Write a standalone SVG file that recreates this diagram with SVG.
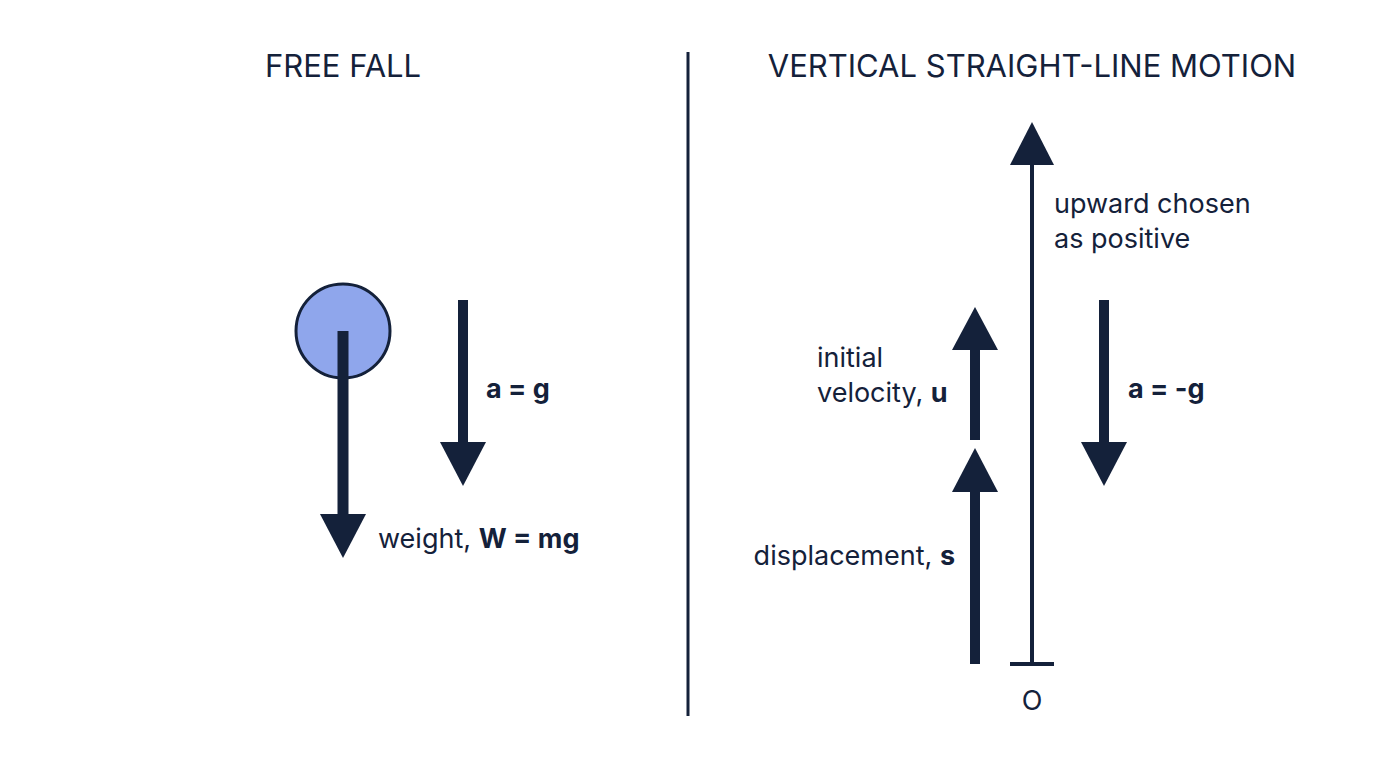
<svg xmlns="http://www.w3.org/2000/svg" width="1376" height="768" viewBox="0 0 1376 768">
<style>
text{font-family:Inter,"Noto Sans",sans-serif;fill:#14213a}
.t{font-size:31px;text-anchor:middle}
.l{font-size:27px}
.b{font-weight:bold}
.ln{stroke:#14213a;fill:none}
.hd{fill:#14213a}
</style>
<rect width="1376" height="768" fill="#fff"/>
<text class="t" x="343" y="77">FREE FALL</text>
<text class="t" x="1032" y="77">VERTICAL STRAIGHT-LINE MOTION</text>
<line class="ln" x1="688" y1="52" x2="688" y2="716" stroke-width="3"/>
<g id="ball">
<circle cx="343" cy="331" r="47" fill="#8fa6ec" stroke="#14213a" stroke-width="3"/>
</g>
<g id="connectors">
<line class="ln" x1="343" y1="331" x2="343" y2="516" stroke-width="11"/>
<polygon class="hd" points="320,514 366,514 343,558"/>
<line class="ln" x1="463" y1="300" x2="463" y2="444" stroke-width="10"/>
<polygon class="hd" points="440,442 486,442 463,486"/>
<line class="ln" x1="1032" y1="664" x2="1032" y2="160" stroke-width="4"/>
<polygon class="hd" points="1010,165 1054,165 1032,122"/>
<line class="ln" x1="1010" y1="664" x2="1054" y2="664" stroke-width="4"/>
<line class="ln" x1="1104" y1="300" x2="1104" y2="444" stroke-width="10"/>
<polygon class="hd" points="1081,442 1127,442 1104,486"/>
<line class="ln" x1="975" y1="440" x2="975" y2="346" stroke-width="10"/>
<polygon class="hd" points="952,350 998,350 975,307"/>
<line class="ln" x1="975" y1="664" x2="975" y2="488" stroke-width="10"/>
<polygon class="hd" points="952,492 998,492 975,448"/>
</g>
<g id="labels">
<text class="l" x="378" y="548">weight, <tspan class="b">W = mg</tspan></text>
<text class="l b" x="486" y="398">a = g</text>
<text class="l b" x="1128" y="398">a = -g</text>
<text class="l" x="1054" y="213">upward chosen</text>
<text class="l" x="1054" y="248">as positive</text>
<text class="l" x="817" y="367">initial</text>
<text class="l" x="817" y="402">velocity, <tspan class="b">u</tspan></text>
<text class="l" x="955" y="565" text-anchor="end">displacement, <tspan class="b">s</tspan></text>
<text class="l" x="1032" y="710" text-anchor="middle" font-size="30">O</text>
</g>
</svg>
